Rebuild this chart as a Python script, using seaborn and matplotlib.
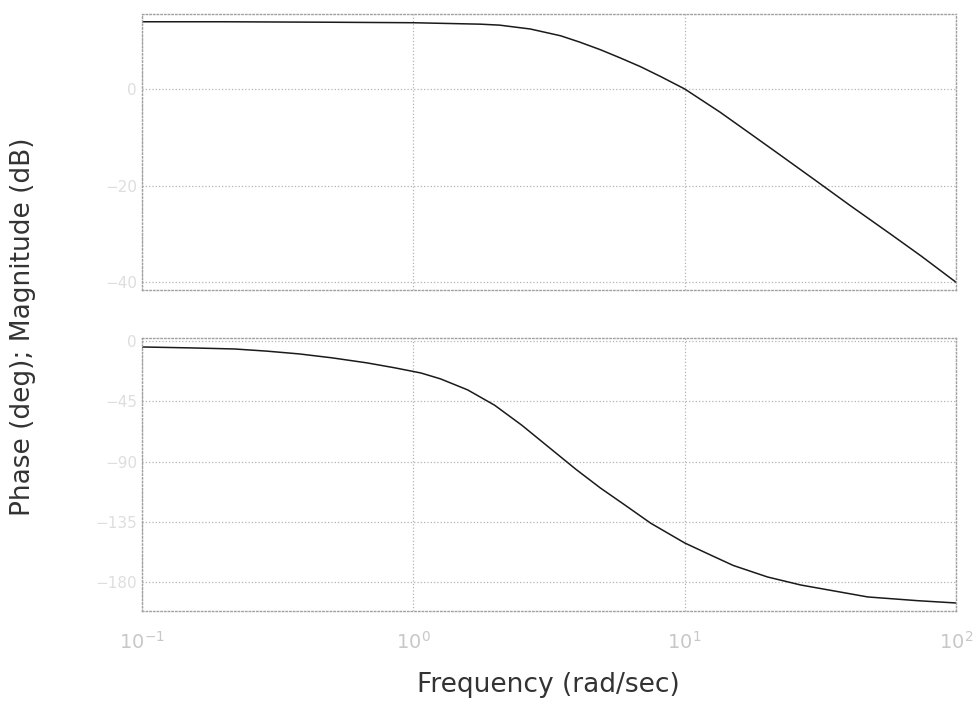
import numpy as np
import pandas as pd
import matplotlib
matplotlib.use("Agg")
import matplotlib.pyplot as plt
import seaborn as sns

# ---- data ----
mag_freq = [0.1, 0.2, 0.5, 1.0, 1.77, 2.08, 2.70, 3.49, 4.10, 4.90, 5.80, 6.88, 8.20,
            10.0, 13.5, 17.5, 22.4, 31.0, 40.9, 57.6, 74.5, 100.0]
mag_db = [13.9, 13.9, 13.8, 13.7, 13.4, 13.2, 12.4, 11.0, 9.7, 8.1, 6.4, 4.6, 2.5,
          0.0, -4.8, -9.3, -13.6, -19.3, -24.2, -30.1, -34.6, -40.0]

phase_freq = [0.1, 0.151, 0.219, 0.288, 0.38, 0.501, 0.676, 0.851, 1.066, 1.259, 1.585,
              1.995, 2.512, 3.162, 3.981, 4.898, 6.03, 7.50, 10.0, 12.3, 15.1, 20.2,
              26.8, 47.3, 72.4, 100.0]
phase_deg = [-4.5, -5.2, -6.0, -7.6, -9.7, -12.6, -16.4, -20.0, -23.9, -28.3, -36.5,
             -48.0, -62.9, -79.4, -95.9, -109.8, -122.5, -136.0, -150.7, -159.2, -167.5,
             -176.1, -182.1, -191.0, -193.8, -195.5]

x_ticks = [0.1, 1, 10, 100]
x_tick_labels = ["$10^{-1}$", "$10^{0}$", "$10^{1}$", "$10^{2}$"]
mag_ticks = [-40, -20, 0]
phase_ticks = [-180, -135, -90, -45, 0]

# ---- figure ----
sns.set_theme(style="white")
plt.rcParams['font.family'] = ['DejaVu Sans']

fig = plt.figure(figsize=(9.77, 7.05), dpi=100)
ax1 = fig.add_axes([0.1453, 0.5887, 0.8332, 0.3914])
ax2 = fig.add_axes([0.1453, 0.1333, 0.8332, 0.3873])

mag_df = pd.DataFrame({"freq": mag_freq, "mag": mag_db})
ph_df = pd.DataFrame({"freq": phase_freq, "phase": phase_deg})

sns.lineplot(data=mag_df, x="freq", y="mag", ax=ax1, color="#1a1a1a", linewidth=1.1)
sns.lineplot(data=ph_df, x="freq", y="phase", ax=ax2, color="#1a1a1a", linewidth=1.1)

grid_col = "#b4b4b4"
faint = "#c8c8c8"
for ax in (ax1, ax2):
    ax.set_xscale("log")
    ax.set_xlim(0.1, 100)
    ax.set_xticks(x_ticks)
    ax.minorticks_off()
    ax.grid(True, which="major", linestyle=":", color=grid_col, linewidth=0.9)
    for sp in ax.spines.values():
        sp.set_linestyle(":")
        sp.set_color("#a0a0a0")
        sp.set_linewidth(1.0)
    ax.tick_params(axis="both", length=0, colors=faint, labelsize=11)
    ax.set_xlabel("")
    ax.set_ylabel("")

ax1.set_ylim(-41.6, 15.5)
ax1.set_yticks(mag_ticks)
ax1.set_xticklabels([])
ax2.set_ylim(-201.5, 2.2)
ax2.set_yticks(phase_ticks)
ax2.set_xticklabels(x_tick_labels, fontsize=14, color=faint)
for lab in ax1.get_yticklabels() + ax2.get_yticklabels():
    lab.set_color("#dedede")
ax2.tick_params(axis="x", pad=14)

fig.text(0.561, 0.010, "Frequency (rad/sec)", ha="center", va="bottom",
         fontsize=19, color="#333333")
fig.text(0.024, 0.536, "Phase (deg); Magnitude (dB)", ha="center", va="center",
         rotation=90, fontsize=19, color="#333333")

fig.savefig("out.png", dpi=100, facecolor="white")
